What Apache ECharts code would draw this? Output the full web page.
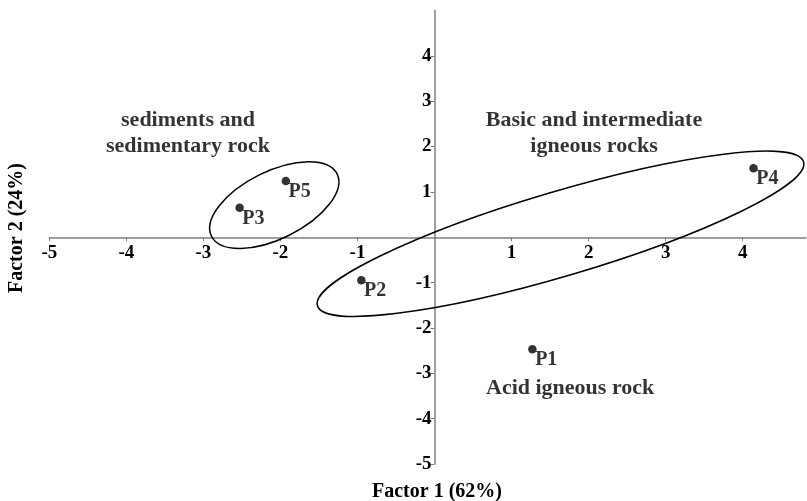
<!DOCTYPE html>
<html>
<head>
<meta charset="utf-8">
<script src="https://cdn.jsdelivr.net/npm/echarts@6/dist/echarts.min.js"></script>
<style>
html,body{margin:0;padding:0;background:#fff;}
#chart{width:807px;height:501px;}
</style>
</head>
<body>
<div id="chart"></div>
<script>
// Sample scores
const pointNames = ['P1', 'P2', 'P3', 'P4', 'P5'];
const factor1 = [1.27, -0.95, -2.53, 4.14, -1.93];
const factor2 = [-2.47, -0.95, 0.65, 1.52, 1.24];

// Group ellipses (centre in data units, semi-axes in x-axis units, tilt in degrees)
const ellipseCenterX = [-2.08, 1.635];
const ellipseCenterY = [0.71, 0.077];
const ellipseMajor = [0.91, 3.29];
const ellipseMinor = [0.437, 0.549];
const ellipseTilt = [26.4, 16.5];

// Group annotations
const noteTexts = ['sediments and\nsedimentary rock', 'Basic and intermediate\nigneous rocks', 'Acid igneous rock'];
const noteX = [-3.2, 2.07, 1.76];
const noteY = [2.29, 2.29, -3.34];

// Axes
const xMin = -5, xMax = 4.82, yMin = -5, yMax = 5;
const xTicks = [-5, -4, -3, -2, -1, 1, 2, 3, 4];
const yTicks = [-5, -4, -3, -2, -1, 1, 2, 3, 4];
const xTitle = 'Factor 1 (62%)';
const yTitle = 'Factor 2 (24%)';

const FONT = '"Liberation Serif", "Times New Roman", serif';

const GRID = { left: 49.3, right: 1.1, top: 10.5, bottom: 37 };
const W = 807, H = 501;
const plotW = W - GRID.left - GRID.right;
const plotH = H - GRID.top - GRID.bottom;
// Place the axes through the origin (axes cross at 0,0)
const xAxisOffset = -(plotH * (0 - yMin) / (yMax - yMin));
const yAxisOffset = -(plotW * (0 - xMin) / (xMax - xMin));

const chart = echarts.init(document.getElementById('chart'));

const pointData = pointNames.map((n, i) => ({ name: n, value: [factor1[i], factor2[i]] }));
const ellipseData = ellipseCenterX.map((cx, i) => [cx, ellipseCenterY[i], ellipseMajor[i], ellipseMinor[i], ellipseTilt[i]]);
const noteData = noteTexts.map((t, i) => ({ name: t, value: [noteX[i], noteY[i]] }));

const tickFmt = v => (v === 0 || v === 5 || !Number.isInteger(v)) ? '' : String(v);

chart.setOption({
  backgroundColor: '#fff',
  animation: false,
  grid: GRID,
  xAxis: {
    type: 'value', min: xMin, max: xMax, interval: 1,
    position: 'bottom', offset: xAxisOffset,
    axisLine: { onZero: false, lineStyle: { color: '#7f7f7f', width: 1.5 } },
    axisTick: { show: true, length: 4, customValues: xTicks, lineStyle: { color: '#7f7f7f', width: 1 } },
    axisLabel: { formatter: tickFmt, customValues: xTicks, margin: 6, color: '#000', fontFamily: FONT, fontWeight: 'bold', fontSize: 19 },
    splitLine: { show: false }
  },
  yAxis: {
    type: 'value', min: yMin, max: yMax, interval: 1,
    position: 'left', offset: yAxisOffset,
    axisLine: { onZero: false, lineStyle: { color: '#7f7f7f', width: 1.5 } },
    axisTick: { show: true, length: 4, customValues: yTicks, lineStyle: { color: '#7f7f7f', width: 1 } },
    axisLabel: { formatter: tickFmt, customValues: yTicks, margin: 3, color: '#000', fontFamily: FONT, fontWeight: 'bold', fontSize: 19 },
    splitLine: { show: false }
  },
  graphic: [
    { type: 'text', x: 437, y: 492, z: 10,
      style: { text: xTitle, font: 'bold 20px ' + FONT, fill: '#000', align: 'center', verticalAlign: 'middle' } },
    { type: 'text', x: 17, y: 228, rotation: Math.PI / 2, z: 10,
      style: { text: yTitle, font: 'bold 20px ' + FONT, fill: '#000', align: 'center', verticalAlign: 'middle' } }
  ],
  series: [
    {
      type: 'custom',
      data: ellipseData,
      encode: { x: 0, y: 1 },
      silent: true,
      clip: false,
      renderItem: function (params, api) {
        const c = api.coord([api.value(0), api.value(1)]);
        const u = api.size([1, 0])[0];
        return {
          type: 'ellipse',
          x: c[0], y: c[1],
          rotation: api.value(4) * Math.PI / 180,
          shape: { cx: 0, cy: 0, rx: api.value(2) * u, ry: api.value(3) * u },
          style: { fill: 'none', stroke: '#000', lineWidth: 1.5 }
        };
      }
    },
    {
      type: 'scatter',
      data: pointData,
      symbol: 'circle',
      symbolSize: 8.5,
      itemStyle: { color: '#000' },
      label: {
        show: true, formatter: p => p.name,
        position: [7, 15], align: 'left', verticalAlign: 'middle',
        color: '#000', fontFamily: FONT, fontWeight: 'bold', fontSize: 20
      }
    },
    {
      type: 'scatter',
      data: noteData,
      symbolSize: 1,
      itemStyle: { color: 'rgba(0,0,0,0)' },
      silent: true,
      label: {
        show: true, formatter: p => p.name, position: 'inside',
        align: 'center', verticalAlign: 'middle', lineHeight: 26.7,
        color: '#000', fontFamily: FONT, fontWeight: 'bold', fontSize: 22
      }
    }
  ]
});
</script>
</body>
</html>
